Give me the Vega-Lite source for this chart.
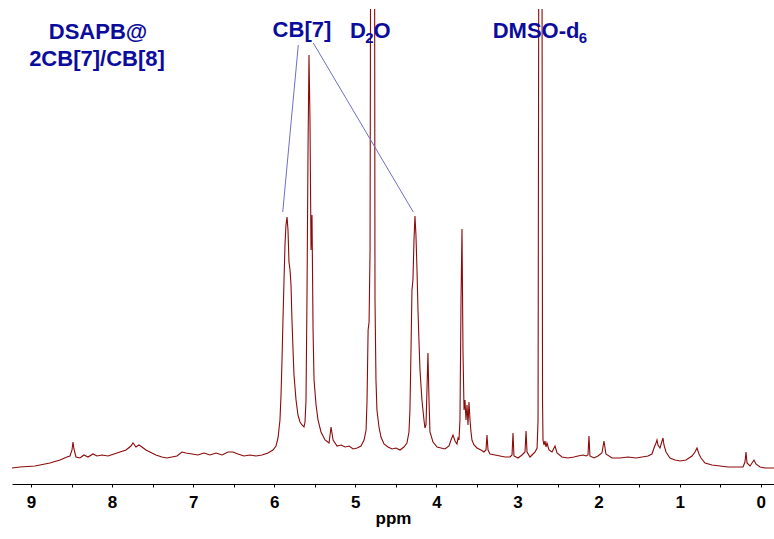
{
  "$schema": "https://vega.github.io/schema/vega-lite/v6.json",
  "width": 762,
  "height": 475,
  "autosize": {"type": "none"},
  "padding": {"left": 12, "top": 9, "right": 0, "bottom": 55},
  "background": "white",
  "config": {"view": {"stroke": null}},
  "datasets": {
    "spectrum": [
      {"ppm": 9.234, "int": 16}, {"ppm": 9.136, "int": 17}, {"ppm": 8.951, "int": 18}, {"ppm": 8.766, "int": 21},
      {"ppm": 8.642, "int": 24}, {"ppm": 8.556, "int": 27}, {"ppm": 8.519, "int": 28}, {"ppm": 8.494, "int": 34},
      {"ppm": 8.482, "int": 42}, {"ppm": 8.470, "int": 35}, {"ppm": 8.445, "int": 27}, {"ppm": 8.396, "int": 26},
      {"ppm": 8.346, "int": 29}, {"ppm": 8.297, "int": 27}, {"ppm": 8.235, "int": 30}, {"ppm": 8.186, "int": 28},
      {"ppm": 8.124, "int": 29}, {"ppm": 8.050, "int": 28}, {"ppm": 7.976, "int": 30}, {"ppm": 7.902, "int": 32},
      {"ppm": 7.828, "int": 34}, {"ppm": 7.767, "int": 38}, {"ppm": 7.742, "int": 41}, {"ppm": 7.705, "int": 37},
      {"ppm": 7.668, "int": 39}, {"ppm": 7.631, "int": 37}, {"ppm": 7.582, "int": 34}, {"ppm": 7.533, "int": 32},
      {"ppm": 7.459, "int": 29}, {"ppm": 7.385, "int": 27}, {"ppm": 7.323, "int": 26}, {"ppm": 7.261, "int": 27},
      {"ppm": 7.199, "int": 28}, {"ppm": 7.138, "int": 32}, {"ppm": 7.088, "int": 31}, {"ppm": 7.014, "int": 30},
      {"ppm": 6.940, "int": 29}, {"ppm": 6.866, "int": 31}, {"ppm": 6.792, "int": 29}, {"ppm": 6.718, "int": 31},
      {"ppm": 6.644, "int": 29}, {"ppm": 6.570, "int": 32}, {"ppm": 6.508, "int": 32}, {"ppm": 6.447, "int": 30},
      {"ppm": 6.373, "int": 28}, {"ppm": 6.299, "int": 29}, {"ppm": 6.225, "int": 28}, {"ppm": 6.151, "int": 29},
      {"ppm": 6.077, "int": 31}, {"ppm": 6.015, "int": 34}, {"ppm": 5.978, "int": 38}, {"ppm": 5.953, "int": 46},
      {"ppm": 5.929, "int": 64}, {"ppm": 5.916, "int": 89}, {"ppm": 5.904, "int": 124}, {"ppm": 5.892, "int": 164},
      {"ppm": 5.879, "int": 204}, {"ppm": 5.867, "int": 239}, {"ppm": 5.855, "int": 259}, {"ppm": 5.842, "int": 267},
      {"ppm": 5.830, "int": 254}, {"ppm": 5.818, "int": 222}, {"ppm": 5.805, "int": 214}, {"ppm": 5.793, "int": 199},
      {"ppm": 5.781, "int": 164}, {"ppm": 5.768, "int": 134}, {"ppm": 5.756, "int": 109}, {"ppm": 5.731, "int": 84},
      {"ppm": 5.707, "int": 69}, {"ppm": 5.682, "int": 62}, {"ppm": 5.657, "int": 59}, {"ppm": 5.633, "int": 57},
      {"ppm": 5.620, "int": 62}, {"ppm": 5.608, "int": 84}, {"ppm": 5.596, "int": 184}, {"ppm": 5.583, "int": 334},
      {"ppm": 5.571, "int": 429}, {"ppm": 5.559, "int": 364}, {"ppm": 5.546, "int": 234}, {"ppm": 5.534, "int": 269},
      {"ppm": 5.521, "int": 154}, {"ppm": 5.509, "int": 104}, {"ppm": 5.484, "int": 79}, {"ppm": 5.460, "int": 64},
      {"ppm": 5.423, "int": 52}, {"ppm": 5.373, "int": 44}, {"ppm": 5.324, "int": 41}, {"ppm": 5.299, "int": 57},
      {"ppm": 5.274, "int": 44}, {"ppm": 5.225, "int": 38}, {"ppm": 5.175, "int": 39}, {"ppm": 5.126, "int": 37},
      {"ppm": 5.077, "int": 38}, {"ppm": 5.027, "int": 35}, {"ppm": 4.978, "int": 36}, {"ppm": 4.929, "int": 38},
      {"ppm": 4.892, "int": 44}, {"ppm": 4.867, "int": 54}, {"ppm": 4.855, "int": 84}, {"ppm": 4.842, "int": 154},
      {"ppm": 4.830, "int": 162}, {"ppm": 4.818, "int": 234}, {"ppm": 4.805, "int": 800}, {"ppm": 4.766, "int": 800},
      {"ppm": 4.757, "int": 184}, {"ppm": 4.745, "int": 104}, {"ppm": 4.733, "int": 74}, {"ppm": 4.708, "int": 57},
      {"ppm": 4.683, "int": 47}, {"ppm": 4.646, "int": 40}, {"ppm": 4.597, "int": 37}, {"ppm": 4.547, "int": 35},
      {"ppm": 4.498, "int": 36}, {"ppm": 4.449, "int": 34}, {"ppm": 4.400, "int": 37}, {"ppm": 4.363, "int": 41},
      {"ppm": 4.338, "int": 52}, {"ppm": 4.326, "int": 74}, {"ppm": 4.313, "int": 134}, {"ppm": 4.301, "int": 194},
      {"ppm": 4.289, "int": 204}, {"ppm": 4.276, "int": 244}, {"ppm": 4.264, "int": 268}, {"ppm": 4.252, "int": 249},
      {"ppm": 4.239, "int": 214}, {"ppm": 4.227, "int": 174}, {"ppm": 4.215, "int": 144}, {"ppm": 4.202, "int": 114},
      {"ppm": 4.178, "int": 84}, {"ppm": 4.153, "int": 64}, {"ppm": 4.141, "int": 56}, {"ppm": 4.128, "int": 59},
      {"ppm": 4.116, "int": 94}, {"ppm": 4.104, "int": 131}, {"ppm": 4.091, "int": 84}, {"ppm": 4.079, "int": 52},
      {"ppm": 4.042, "int": 42}, {"ppm": 3.992, "int": 37}, {"ppm": 3.943, "int": 36}, {"ppm": 3.894, "int": 35},
      {"ppm": 3.844, "int": 38}, {"ppm": 3.820, "int": 44}, {"ppm": 3.795, "int": 49}, {"ppm": 3.770, "int": 43},
      {"ppm": 3.746, "int": 40}, {"ppm": 3.733, "int": 46}, {"ppm": 3.721, "int": 44}, {"ppm": 3.709, "int": 64},
      {"ppm": 3.696, "int": 184}, {"ppm": 3.684, "int": 255}, {"ppm": 3.672, "int": 134}, {"ppm": 3.659, "int": 74},
      {"ppm": 3.647, "int": 84}, {"ppm": 3.635, "int": 64}, {"ppm": 3.622, "int": 79}, {"ppm": 3.610, "int": 59},
      {"ppm": 3.598, "int": 82}, {"ppm": 3.585, "int": 64}, {"ppm": 3.573, "int": 52}, {"ppm": 3.561, "int": 44},
      {"ppm": 3.536, "int": 39}, {"ppm": 3.499, "int": 36}, {"ppm": 3.450, "int": 34}, {"ppm": 3.413, "int": 32},
      {"ppm": 3.388, "int": 34}, {"ppm": 3.376, "int": 49}, {"ppm": 3.363, "int": 34}, {"ppm": 3.339, "int": 30},
      {"ppm": 3.277, "int": 29}, {"ppm": 3.215, "int": 28}, {"ppm": 3.154, "int": 27}, {"ppm": 3.092, "int": 27},
      {"ppm": 3.067, "int": 29}, {"ppm": 3.055, "int": 51}, {"ppm": 3.043, "int": 28}, {"ppm": 2.993, "int": 26},
      {"ppm": 2.944, "int": 29}, {"ppm": 2.907, "int": 32}, {"ppm": 2.894, "int": 53}, {"ppm": 2.882, "int": 32},
      {"ppm": 2.845, "int": 27}, {"ppm": 2.808, "int": 30}, {"ppm": 2.783, "int": 32}, {"ppm": 2.758, "int": 36},
      {"ppm": 2.746, "int": 64}, {"ppm": 2.732, "int": 800}, {"ppm": 2.701, "int": 800}, {"ppm": 2.691, "int": 84},
      {"ppm": 2.685, "int": 44}, {"ppm": 2.673, "int": 39}, {"ppm": 2.660, "int": 43}, {"ppm": 2.648, "int": 37},
      {"ppm": 2.636, "int": 41}, {"ppm": 2.611, "int": 34}, {"ppm": 2.574, "int": 32}, {"ppm": 2.537, "int": 38},
      {"ppm": 2.512, "int": 31}, {"ppm": 2.451, "int": 27}, {"ppm": 2.377, "int": 26}, {"ppm": 2.303, "int": 27},
      {"ppm": 2.254, "int": 28}, {"ppm": 2.192, "int": 29}, {"ppm": 2.155, "int": 28}, {"ppm": 2.130, "int": 29},
      {"ppm": 2.118, "int": 48}, {"ppm": 2.106, "int": 28}, {"ppm": 2.056, "int": 26}, {"ppm": 2.007, "int": 28},
      {"ppm": 1.958, "int": 31}, {"ppm": 1.933, "int": 43}, {"ppm": 1.909, "int": 30}, {"ppm": 1.834, "int": 26},
      {"ppm": 1.736, "int": 26}, {"ppm": 1.637, "int": 27}, {"ppm": 1.538, "int": 26}, {"ppm": 1.464, "int": 27},
      {"ppm": 1.390, "int": 28}, {"ppm": 1.341, "int": 30}, {"ppm": 1.316, "int": 36}, {"ppm": 1.291, "int": 41},
      {"ppm": 1.279, "int": 44}, {"ppm": 1.267, "int": 39}, {"ppm": 1.242, "int": 36}, {"ppm": 1.217, "int": 43},
      {"ppm": 1.205, "int": 46}, {"ppm": 1.193, "int": 39}, {"ppm": 1.168, "int": 32}, {"ppm": 1.119, "int": 26},
      {"ppm": 1.057, "int": 24}, {"ppm": 0.995, "int": 23}, {"ppm": 0.921, "int": 24}, {"ppm": 0.847, "int": 28},
      {"ppm": 0.810, "int": 32}, {"ppm": 0.786, "int": 36}, {"ppm": 0.761, "int": 30}, {"ppm": 0.736, "int": 26},
      {"ppm": 0.687, "int": 21}, {"ppm": 0.601, "int": 19}, {"ppm": 0.502, "int": 18}, {"ppm": 0.403, "int": 17},
      {"ppm": 0.304, "int": 17}, {"ppm": 0.218, "int": 17}, {"ppm": 0.194, "int": 22}, {"ppm": 0.181, "int": 32},
      {"ppm": 0.169, "int": 21}, {"ppm": 0.132, "int": 18}, {"ppm": 0.107, "int": 21}, {"ppm": 0.083, "int": 24},
      {"ppm": 0.058, "int": 20}, {"ppm": 0.009, "int": 17}, {"ppm": -0.053, "int": 16}, {"ppm": -0.115, "int": 16},
      {"ppm": -0.164, "int": 16}
    ],
    "labels": [
      {"ppm": 8.173, "int": 452, "label": "DSAPB@"},
      {"ppm": 8.186, "int": 425, "label": "2CB[7]/CB[8]"},
      {"ppm": 5.658, "int": 454, "label": "CB[7]"},
      {"ppm": 4.967, "int": 453, "label": "D"},
      {"ppm": 4.671, "int": 453, "label": "O"},
      {"ppm": 2.770, "int": 453, "label": "DMSO-d"}
    ],
    "subscripts": [
      {"ppm": 4.825, "int": 446, "label": "2"},
      {"ppm": 2.192, "int": 446, "label": "6"}
    ],
    "leaders": [
      {"ppm": 5.703, "int": 439, "ppm2": 5.895, "int2": 272},
      {"ppm": 5.518, "int": 441, "ppm2": 4.285, "int2": 272}
    ]
  },
  "encoding": {
    "x": {
      "field": "ppm", "type": "quantitative",
      "scale": {"domain": [-0.164, 9.234], "reverse": true, "nice": false, "zero": false},
      "axis": {
        "title": "ppm",
        "values": [0, 0.5, 1, 1.5, 2, 2.5, 3, 3.5, 4, 4.5, 5, 5.5, 6, 6.5, 7, 7.5, 8, 8.5, 9],
        "labelExpr": "datum.value % 1 === 0 ? format(datum.value, 'd') : ''",
        "grid": false, "domainColor": "#000000", "domainWidth": 1,
        "tickColor": "#000000", "tickSize": 3, "tickWidth": 1,
        "labelFont": "Liberation Sans", "labelFontSize": 17, "labelFontWeight": "bold", "labelColor": "#000000",
        "labelPadding": 7, "labelFlush": false, "labelOverlap": false,
        "titleFont": "Liberation Sans", "titleFontSize": 17, "titleFontWeight": "bold", "titleColor": "#000000",
        "titlePadding": 0
      }
    },
    "y": {
      "field": "int", "type": "quantitative",
      "scale": {"domain": [0, 475], "nice": false, "zero": true},
      "axis": null
    }
  },
  "layer": [
    {
      "data": {"name": "spectrum"},
      "mark": {"type": "line", "color": "#8B0A0A", "strokeWidth": 1.1, "clip": true, "interpolate": "linear"},
      "encoding": {"order": {"field": "ppm", "sort": "descending"}}
    },
    {
      "data": {"name": "leaders"},
      "mark": {"type": "rule", "color": "#6E6EC8", "strokeWidth": 1},
      "encoding": {"x2": {"field": "ppm2"}, "y2": {"field": "int2"}}
    },
    {
      "data": {"name": "labels"},
      "mark": {"type": "text", "font": "Liberation Sans", "fontSize": 22, "fontWeight": "bold", "color": "#0C0C9C", "align": "center", "baseline": "middle"},
      "encoding": {"text": {"field": "label"}}
    },
    {
      "data": {"name": "subscripts"},
      "mark": {"type": "text", "font": "Liberation Sans", "fontSize": 15, "fontWeight": "bold", "color": "#0C0C9C", "align": "center", "baseline": "middle"},
      "encoding": {"text": {"field": "label"}}
    }
  ]
}
